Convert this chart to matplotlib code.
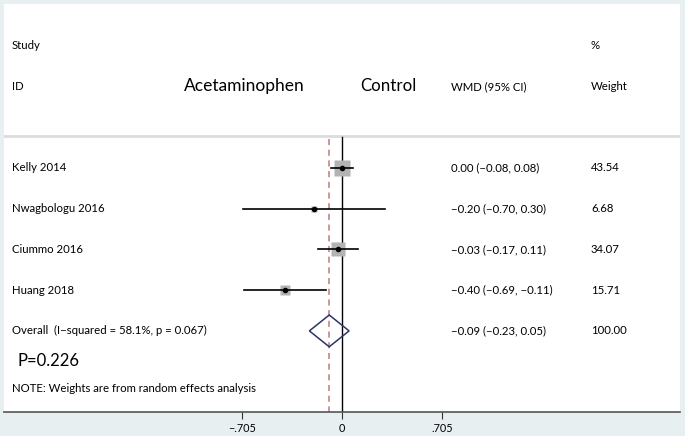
import matplotlib
matplotlib.use('Agg')
import matplotlib.pyplot as plt
import matplotlib.transforms as mtransforms
import numpy as np

plt.rcParams['font.family'] = ['Lato', 'DejaVu Sans']

# data
studies = ['Kelly 2014', 'Nwagbologu 2016', 'Ciummo 2016', 'Huang 2018']
est = [0.00, -0.20, -0.03, -0.40]
lo = [-0.08, -0.70, -0.17, -0.69]
hi = [0.08, 0.30, 0.11, -0.11]
weights = [43.54, 6.68, 34.07, 15.71]
wmd_labels = ['0.00 (\u22120.08, 0.08)', '\u22120.20 (\u22120.70, 0.30)',
              '\u22120.03 (\u22120.17, 0.11)', '\u22120.40 (\u22120.69, \u22120.11)']
weight_labels = ['43.54', '6.68', '34.07', '15.71']

overall_label = 'Overall  (I\u2212squared = 58.1%, p = 0.067)'
overall_est = -0.09
overall_lo = -0.23
overall_hi = 0.05
overall_wmd = '\u22120.09 (\u22120.23, 0.05)'
overall_weight = '100.00'

xticks = [-0.705, 0, 0.705]
xticklabels = ['\u2212.705', '0', '.705']

fig = plt.figure(figsize=(6.85, 4.36), dpi=100)
fig.patch.set_facecolor('#e8eff1')
ax = fig.add_axes([4/685, 24/436, 676/685, 408/436])
ax.set_facecolor('white')

ax.set_xlim(-2.383, 2.383)
ax.set_ylim(6.99, -3.02)

rows = np.arange(1, len(studies) + 1)
overall_row = len(studies) + 1

# reference lines
ax.plot([0, 0], [0.24, 6.99], color='black', lw=1.0, zorder=2)
ax.plot([overall_est, overall_est], [0.3, 6.99], color='#c07a7a', lw=1.1,
        ls=(0, (4, 3)), zorder=2)

# separator line
ax.axhline(0.22, color='#dcdcdc', lw=2, zorder=1)

# study estimates
for r, e, l, h, w in zip(rows, est, lo, hi, weights):
    ax.plot(e, r, marker='s', ms=1.7 * np.sqrt(w), color='#b3b3b3',
            mec='none', zorder=3)
    ax.plot([l, h], [r, r], color='black', lw=1.2, zorder=4)
    ax.plot(e, r, marker='o', ms=3.0, color='black', zorder=5)

# overall diamond
dh = 0.39
ax.fill([overall_lo, overall_est, overall_hi, overall_est, overall_lo],
        [overall_row, overall_row - dh, overall_row, overall_row + dh, overall_row],
        facecolor='none', edgecolor='#2c3566', lw=1.1, zorder=4)

# text columns
trans = mtransforms.blended_transform_factory(ax.transAxes, ax.transData)
fs = 8.2
c1 = (12 - 4) / 676
c2 = (451 - 4) / 676
c3 = (591 - 4) / 676

ax.text(c1, -2, 'Study', transform=trans, fontsize=fs, va='center')
ax.text(c1, -1, 'ID', transform=trans, fontsize=fs, va='center')
ax.text(c3, -2, '%', transform=trans, fontsize=fs, va='center')
ax.text(c2, -1, 'WMD (95% CI)', transform=trans, fontsize=fs, va='center')
ax.text(c3, -1, 'Weight', transform=trans, fontsize=fs, va='center')
ax.text(-0.69, -1, 'Acetaminophen', fontsize=12.5, ha='center', va='center')
ax.text(0.33, -1, 'Control', fontsize=12.2, ha='center', va='center')

for r, s, wl, wt in zip(rows, studies, wmd_labels, weight_labels):
    ax.text(c1, r, s, transform=trans, fontsize=fs, va='center')
    ax.text(c2, r, wl, transform=trans, fontsize=fs, va='center')
    ax.text(c3, r, wt, transform=trans, fontsize=fs, va='center')

ax.text(c1, overall_row, overall_label, transform=trans, fontsize=fs, va='center')
ax.text(c2, overall_row, overall_wmd, transform=trans, fontsize=fs, va='center')
ax.text(c3, overall_row, overall_weight, transform=trans, fontsize=fs, va='center')

ax.text((18 - 4) / 676, 5.74, 'P=0.226', transform=trans, fontsize=12, va='center')
ax.text(c1, 6.42, 'NOTE: Weights are from random effects analysis',
        transform=trans, fontsize=fs, va='center')

# axis
for sp in ['top', 'left', 'right']:
    ax.spines[sp].set_visible(False)
ax.spines['bottom'].set_color('#555555')
ax.spines['bottom'].set_linewidth(1.2)
ax.set_yticks([])
ax.set_xticks(xticks)
ax.set_xticklabels(xticklabels, fontsize=7.8)
ax.tick_params(axis='x', length=5, width=0.8, color='#333333', pad=3)

plt.savefig('out.png', dpi=100, facecolor=fig.get_facecolor())
